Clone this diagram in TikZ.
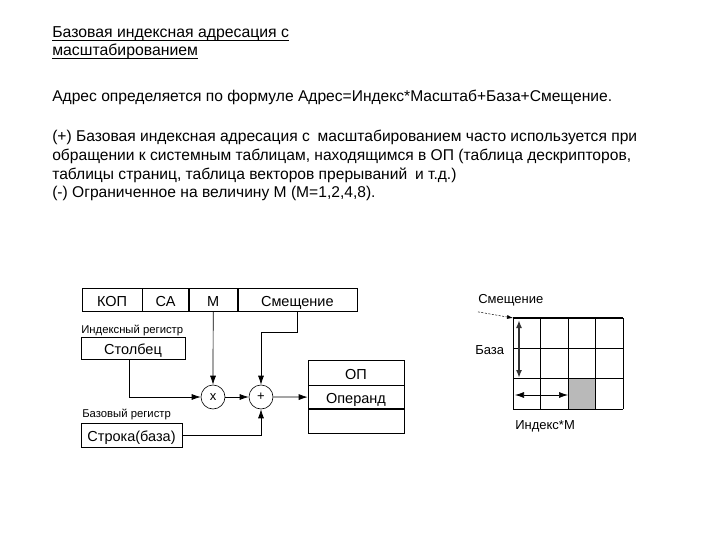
\documentclass[tikz,border=0pt]{standalone}
\usepackage{fontspec}
\setmainfont{Liberation Sans}
\usetikzlibrary{arrows.meta,positioning}

\tikzset{
  txt/.style={anchor=base west,inner sep=0pt,font=\fontsize{15.6}{18}\selectfont},
  ttl/.style={anchor=base west,inner sep=0pt,font=\fontsize{15.8}{18}\selectfont},
  field/.style={draw,minimum height=23pt,inner sep=0pt,text height=14pt,text depth=1pt,
    font=\fontsize{14.5}{17}\selectfont},
  reg/.style={draw,inner sep=0pt,text height=14pt,text depth=1pt,font=\fontsize{14.5}{17}\selectfont},
  small/.style={anchor=base west,inner sep=0pt,font=\fontsize{11.3}{14}\selectfont},
  gridlbl/.style={anchor=base west,inner sep=0pt,font=\fontsize{13}{15}\selectfont},
  opcirc/.style={draw,circle,minimum size=24pt,inner sep=0pt,font=\fontsize{13}{15}\selectfont},
  tip/.tip={Latex[length=9pt,width=6pt]},
  wire/.style={-tip,line width=0.7pt}
}

\begin{document}
\begin{tikzpicture}[x=1pt,y=-1pt,line width=0.6pt]
  \useasboundingbox (0,0) rectangle (720,540);

  % text above
  \node[ttl] (title1) at (52,38) {Базовая индексная адресация с};
  \node[ttl] (title2) at (52,56) {масштабированием};
  \draw[line width=0.9pt] ([yshift=-2pt]title1.base west) -- ([yshift=-2pt]title1.base east);
  \draw[line width=0.9pt] ([yshift=-2pt]title2.base west) -- ([yshift=-2pt]title2.base east);
  \node[txt] (formula) at (52,102) {Адрес определяется по формуле Адрес=Индекс*Масштаб+База+Смещение.};
  \node[txt] (plus1) at (52,142) {(+) Базовая индексная адресация с\hspace{0.5em}масштабированием часто используется при};
  \node[txt] (plus2) at (52,161) {обращении к системным таблицам, находящимся в ОП (таблица дескрипторов,};
  \node[txt] (plus3) at (52,180) {таблицы страниц, таблица векторов прерываний\hspace{0.5em}и т.д.)};
  \node[txt] (minus) at (52,198) {(-) Ограниченное на величину М (М=1,2,4,8).};

  % instruction format
  \node[field,minimum width=60pt] (kop) at (112,299.5) {КОП};
  \node[field,minimum width=46pt,right=0pt of kop] (sa) {СА};
  \node[field,minimum width=48pt,right=0pt of sa] (m) {М};
  \node[field,minimum width=119pt,right=0pt of m] (disp) {Смещение};

  % registers
  \node[small] (idxlbl) at (81,333) {Индексный регистр};
  \node[reg,minimum width=104pt,minimum height=22pt] (col) at (133,348) {Столбец};
  \node[small] (baselbl) at (82,417) {Базовый регистр};
  \node[reg,minimum width=101pt,minimum height=24pt] (row) at (131.5,435) {Строка(база)};

  % operations
  \node[opcirc] (mul) at (213,397) {x};
  \node[opcirc] (add) at (261,397) {+};

  % memory
  \node[reg,minimum width=96pt,minimum height=25pt] (op) at (356,372.5) {ОП};
  \node[reg,minimum width=96pt,minimum height=23pt,below=0pt of op] (opnd) {Операнд};
  \node[reg,minimum width=96pt,minimum height=24pt,below=0pt of opnd] (empty) {};

  \draw[wire] ([xshift=-4pt]col.south) |- (mul);
  \draw[wire] (m.south) -- (mul.north);
  \draw[wire] (disp.south) -- ++(0,21) -| (add.north);
  \draw[wire] (mul) -- (add);
  \draw[wire] (add) -- (opnd.west);
  \draw[wire] (row.east) -| (add.south);

  % table in memory
  \fill[gray!55] (568.5,379) rectangle (596,409);
  \foreach \i in {0,...,4}
    \draw (513+27.5*\i,318) -- (513+27.5*\i,409);
  \foreach \j in {1,2,3}
    \draw (513,318+30.33*\j) -- (623,318+30.33*\j);
  \draw[line width=1.2pt] (513,318) -- (623,318);
  \coordinate (corner) at (513,318);

  \node[gridlbl] (displbl) at (478,303) {Смещение};
  \node[gridlbl] (baselbl2) at (475,354) {База};
  \node[gridlbl] (idxm) at (515,429) {Индекс*М};

  \draw[-{Latex[length=6pt,width=4pt]},line width=0.5pt,dash pattern=on 2pt off 1.5pt]
    ([yshift=-6pt]displbl.south west) -- (corner);
  \draw[{Latex[length=8pt,width=6pt]}-{Latex[length=8pt,width=6pt]},line width=1.8pt,gray!40!black]
    (519,320) -- (519,378);
  \draw[wire,tip-tip] (515,395) -- (568,395);
\end{tikzpicture}
\end{document}
